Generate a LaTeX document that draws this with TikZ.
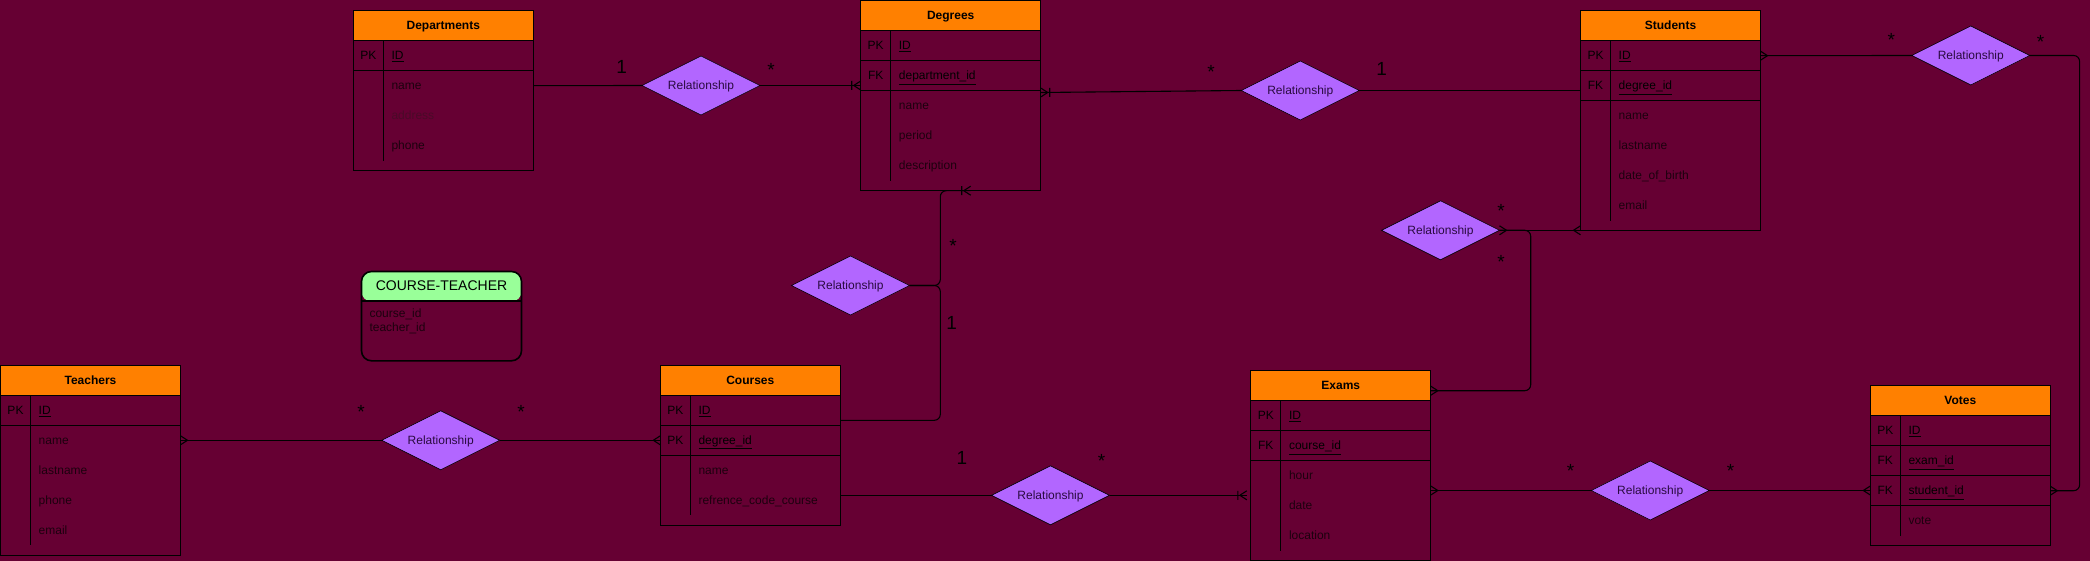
\documentclass[tikz,border=0pt]{standalone}
\usepackage{fontspec}
\setmainfont{Liberation Sans}
\usetikzlibrary{shapes.geometric,calc}
\definecolor{bg}{HTML}{660033}
\definecolor{hdr}{HTML}{FF8000}
\definecolor{relc}{HTML}{B266FF}
\definecolor{ctg}{HTML}{99FF99}
\definecolor{attrc}{HTML}{1C000E}
\definecolor{attrl}{HTML}{4A0A28}
\definecolor{reltext}{HTML}{2A0A40}

\newcommand\ertable[8]{%
  \pgfmathsetmacro\tblH{40+30*#5+30*#7}%
  \node[tblbox, minimum height=\tblH pt] (#1-box) at (#2,#3) {};
  \node[tblhead] (#1) at (#2,#3) {#4};
  \foreach \k/\v [count=\i] in {#6}{%
    \draw[tline] (#2,#3+30+30*\i) -- ++(180,0);
    \node[txt] at (#2+15,#3+15+30*\i) {\k};
    \node[txt,anchor=west] (#1-k\i) at (#2+38,#3+15+30*\i) {\underline{\v}};
  }%
  \foreach \a [count=\i] in {#8}{%
    \node[txt,text=attrc,anchor=west] (#1-a\i) at (#2+38,#3+15+30*#5+30*\i) {\a};
  }%
  \draw[tline] (#2+30,#3+30) -- (#2+30,#3+30+30*#5+30*#7);
}

\begin{document}
\begin{tikzpicture}[x=1pt,y=-1pt,
  tline/.style={draw=black, line width=1pt},
  conn/.style={draw=black, line width=1.1pt},
  txt/.style={inner sep=0pt, text height=10.5pt, text depth=2pt, font=\fontsize{12}{14}\selectfont},
  tblbox/.style={draw=black, line width=1pt, anchor=north west, minimum width=180pt, inner sep=0pt, outer sep=0pt},
  tblhead/.style={draw=black, line width=1pt, fill=hdr, anchor=north west, minimum width=180pt, minimum height=30pt, inner sep=0pt, outer sep=0pt, text height=10.5pt, text depth=2pt, font=\fontsize{12}{14}\selectfont\bfseries},
  rel/.style={shape=diamond, shape aspect=2, draw=black, line width=0.6pt, fill=relc, minimum width=118pt, minimum height=59pt, inner sep=0pt, outer sep=0pt, text=reltext, text height=10.5pt, text depth=2pt, font=\fontsize{12}{14}\selectfont},
  lab/.style={inner sep=0pt, font=\fontsize{19}{22}\selectfont},
  crowfoot/.pic={\draw[conn] (-7pt,0pt) -- (0pt,4.5pt) (-7pt,0pt) -- (0pt,-4.5pt);},
  crowbar/.pic={\draw[conn] (-7pt,0pt) -- (0pt,4.5pt) (-7pt,0pt) -- (0pt,-4.5pt) (-9pt,4.5pt) -- (-9pt,-4.5pt);}
]
\useasboundingbox (0,0) rectangle (2090,561);
\fill[bg] (0,0) rectangle (2090,561);

% ---------- tables ----------
\ertable{dep}{353.3}{10.7}{Departments}{1}{PK/ID}{3}{name,\textcolor{attrl}{address},phone}
\ertable{deg}{860.7}{0.7}{Degrees}{2}{PK/ID,FK/department\_id}{3}{name,period,description}
\ertable{stu}{1580.5}{10.7}{Students}{2}{PK/ID,FK/degree\_id}{4}{name,lastname,date\_of\_birth,email}
\ertable{tea}{0.5}{365.3}{Teachers}{1}{PK/ID}{4}{name,lastname,phone,email}
\ertable{cou}{660.3}{365.3}{Courses}{2}{PK/ID,PK/degree\_id}{2}{name,refrence\_code\_course}
\ertable{exa}{1250.8}{370.7}{Exams}{2}{PK/ID,FK/course\_id}{3}{hour,date,location}
\ertable{vot}{1870.3}{385.7}{Votes}{3}{PK/ID,FK/exam\_id,FK/student\_id}{1}{vote}

% ---------- COURSE-TEACHER ----------
\node[draw=black, line width=1.6pt, rounded corners=10pt, anchor=north west, minimum width=160pt, minimum height=89.3pt, inner sep=0pt,
  path picture={\fill[ctg] (path picture bounding box.north west) rectangle ([yshift=-30pt]path picture bounding box.north east);}] (ct) at (360.7,270.7) {};
\draw[line width=1.6pt] ([yshift=-30pt]ct.north west) -- ([yshift=-30pt]ct.north east);
\node[inner sep=0pt, text height=10.5pt, text depth=2pt, font=\fontsize{14}{16}\selectfont] (ctt) at ([yshift=-16pt]ct.north) {COURSE-TEACHER};
\node[txt, text=attrc, anchor=west] (ct1) at (369.3,313.3) {course\_id};
\node[txt, text=attrc, anchor=west] (ct2) at (369.3,327.7) {teacher\_id};

% ---------- relationships ----------
\node[rel] (r1) at (701,85.5) {Relationship};
\node[rel] (r2) at (1300.3,90.5) {Relationship};
\node[rel] (r3) at (1970.8,55.5) {Relationship};
\node[rel] (r4) at (1440.5,230.3) {Relationship};
\node[rel] (r5) at (1650.2,490.5) {Relationship};
\node[rel] (r6) at (1050.5,495.3) {Relationship};
\node[rel] (r7) at (850.5,285.5) {Relationship};
\node[rel] (r8) at (440.7,440.3) {Relationship};

% ---------- helper coordinates ----------
\coordinate (degR) at ([yshift=-2pt]r2.west -| deg-box.east);
\coordinate (degB) at ($(deg-box.south west)+(110,0)$);
\coordinate (cx) at (940.3,190.7);
\coordinate (couR) at ([yshift=-10pt]cou-k1 -| cou-box.east);
\coordinate (cvx) at (2079.6,0);
\coordinate (exaT) at ([yshift=-5pt]exa.east);
\coordinate (cex) at (1530.7,0);
\coordinate (exaL) at ([xshift=-4pt]r6.east -| exa-box.west);

% ---------- connectors ----------
% Departments - Degrees
\draw[conn] (dep-a1 -| dep-box.east) -- (r1.west);
\draw[conn] (r1.east) -- (r1.east -| deg-box.west);
\pic at (r1.east -| deg-box.west) {crowbar};
% Degrees - Students
\draw[conn] (degR) -- (r2.west);
\pic[rotate=180] at (degR) {crowbar};
\draw[conn] (r2.east) -- (r2.east -| stu-box.west);
% Students - Votes
\draw[conn] (stu-k1 -| stu-box.east) -- (r3.west);
\pic[rotate=180] at (stu-k1 -| stu-box.east) {crowfoot};
\draw[conn, rounded corners=6pt] (r3.east) -| (cvx |- vot-k3) -- (vot-k3 -| vot-box.east);
\pic[rotate=180] at (vot-k3 -| vot-box.east) {crowfoot};
% Students - Exams
\draw[conn] (r4.east) -- (r4.east -| stu-box.west);
\pic at (r4.east -| stu-box.west) {crowfoot};
\pic[rotate=180] at (r4.east) {crowfoot};
\draw[conn, rounded corners=6pt] (r4.east) -| (cex |- exaT) -- (exaT);
\pic[rotate=180] at (exaT) {crowfoot};
% Exams - Votes
\draw[conn] (r5.west -| exa-box.east) -- (r5.west);
\pic[rotate=180] at (r5.west -| exa-box.east) {crowfoot};
\draw[conn] (r5.east) -- (r5.east -| vot-box.west);
\pic at (r5.east -| vot-box.west) {crowfoot};
% Courses - Exams
\draw[conn] (r6.west -| cou-box.east) -- (r6.west);
\draw[conn] (r6.east) -- (exaL);
\pic at (exaL) {crowbar};
% Degrees - Courses
\draw[conn, rounded corners=6pt] (r7.east) -| (cx) -- (degB);
\pic at (degB) {crowbar};
\draw[conn, rounded corners=6pt] (couR) -| (cx |- r7.east) -- (r7.east);
% Teachers - Courses
\draw[conn] (tea-a1 -| tea-box.east) -- (r8.west);
\pic[rotate=180] at (tea-a1 -| tea-box.east) {crowfoot};
\draw[conn] (r8.east) -- (r8.east -| cou-box.west);
\pic at (r8.east -| cou-box.west) {crowfoot};

% ---------- cardinality labels ----------
\node[lab] (l1a) at (621.7,66.7) {1};
\node[lab] (l1b) at (771,70) {*};
\node[lab] (l2a) at (1211,72.3) {*};
\node[lab] (l2b) at (1381.7,69.3) {1};
\node[lab] (l3a) at (1891.3,40) {*};
\node[lab] (l3b) at (2040.5,41.5) {*};
\node[lab] (l4a) at (1501,211.3) {*};
\node[lab] (l4b) at (1501,262.3) {*};
\node[lab] (l5a) at (1570.5,471.3) {*};
\node[lab] (l5b) at (1730.5,471.3) {*};
\node[lab] (l6a) at (962,458.3) {1};
\node[lab] (l6b) at (1101.6,461.3) {*};
\node[lab] (l7a) at (953,245.7) {*};
\node[lab] (l7b) at (951.7,323) {1};
\node[lab] (l8a) at (361,412.3) {*};
\node[lab] (l8b) at (521,412.3) {*};
\end{tikzpicture}
\end{document}
